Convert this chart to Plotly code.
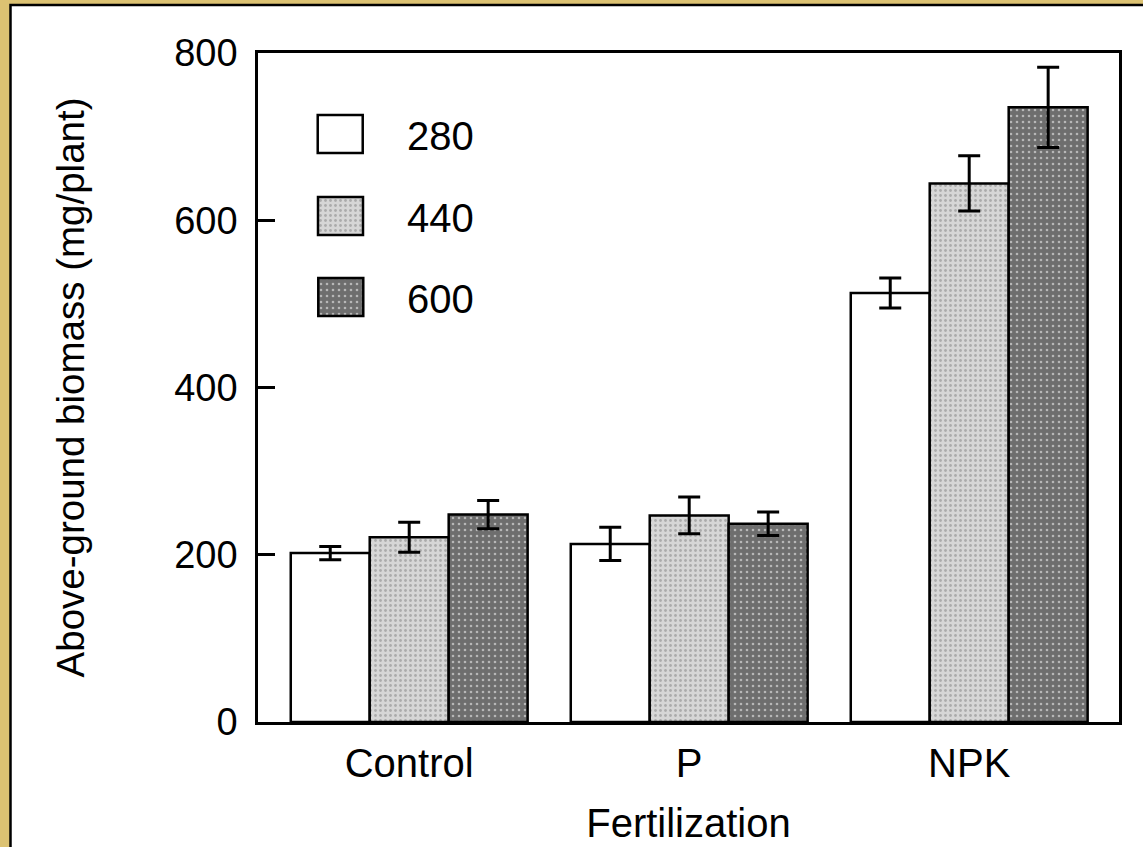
import plotly.graph_objects as go

categories = ["Control", "P", "NPK"]
series_names = ["280", "440", "600"]
biomass_280 = [202, 213, 513]
biomass_440 = [221, 247, 644]
biomass_600 = [248, 237, 735]
err_280 = [8, 20, 18]
err_440 = [18, 22, 33]
err_600 = [17, 14, 48]
y_ticks = [0, 200, 400, 600, 800]

W, H = 1143, 847
L, R, T, B = 258, 1119, 53, 722   # plot area in pixels
FONT = "Arial, Liberation Sans, sans-serif"
GOLD = "#DCC272"

styles = [
    dict(color="white", pattern=None),
    dict(color="#d4d4d4", pattern=dict(shape=".", bgcolor="#d6d6d6", fgcolor="#808080", size=5, solidity=0.25)),
    dict(color="#6c6c6c", pattern=dict(shape=".", bgcolor="#6e6e6e", fgcolor="#ffffff", size=6, solidity=0.15)),
]

fig = go.Figure()
for name, vals, errs, st in zip(series_names, [biomass_280, biomass_440, biomass_600],
                                [err_280, err_440, err_600], styles):
    marker = dict(color=st["color"], line=dict(color="black", width=2.5))
    if st["pattern"]:
        marker["pattern"] = st["pattern"]
    fig.add_trace(go.Bar(
        x=categories, y=vals, name=name, marker=marker,
        error_y=dict(type="data", array=errs, color="black", thickness=3, width=11),
        showlegend=False, xaxis="x", yaxis="y",
    ))

# manual legend swatches on an overlay pixel axis
sw_x = 340.5
sw_tops = [115, 197, 278]
sw_h = 38
for name, st, top in zip(series_names, styles, sw_tops):
    marker = dict(color=st["color"], line=dict(color="black", width=2.5))
    if st["pattern"]:
        marker["pattern"] = st["pattern"]
    fig.add_trace(go.Bar(
        x=[sw_x], y=[sw_h], base=[top], width=[45], marker=marker,
        showlegend=False, xaxis="x2", yaxis="y2", hoverinfo="skip",
    ))
    fig.add_annotation(x=405, y=top + sw_h / 2 + 2, xref="x2", yref="y2", text=name,
                       showarrow=False, xanchor="left", yanchor="middle",
                       font=dict(family=FONT, size=40, color="black"))

pw, ph = R - L, B - T
def px2x(px):
    return (px - L) / pw
def py2y(py):
    return (B - py) / ph

# white page area with black frame line over a gold border
fig.add_shape(type="rect", xref="paper", yref="paper",
              x0=px2x(10.5), x1=px2x(W + 20), y0=py2y(H + 20), y1=py2y(5),
              fillcolor="white", line=dict(color="black", width=2.5), layer="below")

fig.update_layout(
    width=W, height=H,
    margin=dict(l=L, r=W - R, t=T, b=H - B, autoexpand=False),
    paper_bgcolor=GOLD, plot_bgcolor="white",
    barmode="group", bargap=0.154, bargroupgap=0,
    font=dict(family=FONT, size=39, color="black"),
    xaxis=dict(
        type="category", range=[-0.54, 2.535], automargin=False,
        showline=True, linecolor="black", linewidth=2.5, mirror=True,
        ticks="", showgrid=False, zeroline=False,
        tickfont=dict(size=40), ticklabelstandoff=4,
        title=dict(text="Fertilization", font=dict(size=40), standoff=26),
    ),
    yaxis=dict(
        range=[0, 800], tickvals=y_ticks, automargin=False,
        showline=True, linecolor="black", linewidth=2.5, mirror=True,
        ticks="inside", ticklen=17, tickwidth=2.5, tickcolor="black",
        showgrid=False, zeroline=False,
        tickfont=dict(size=38), ticklabelstandoff=10,
        title=dict(text="Above-ground biomass (mg/plant)", font=dict(size=38.5), standoff=78),
    ),
    xaxis2=dict(range=[L, R], overlaying="x", anchor="y2", visible=False, fixedrange=True),
    yaxis2=dict(range=[B, T], overlaying="y", anchor="x2", visible=False, fixedrange=True),
)

fig.write_html("out.html")
